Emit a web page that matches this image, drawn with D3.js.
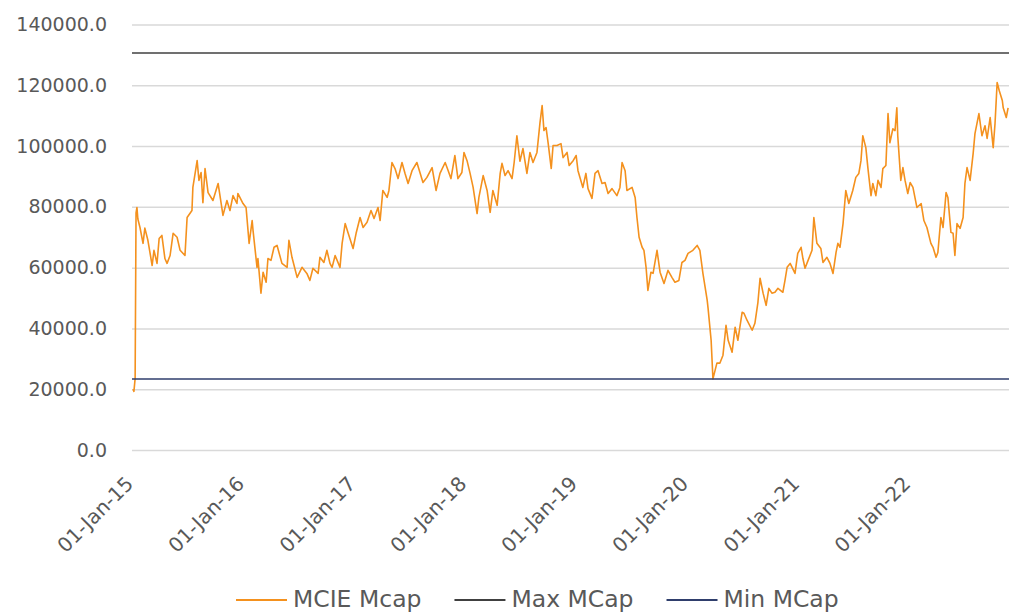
<!DOCTYPE html>
<html>
<head>
<meta charset="utf-8">
<script src="https://cdn.jsdelivr.net/npm/d3@7"></script>
<style>
  body { margin: 0; background: #fff; }
  svg { display: block; font-family: "DejaVu Sans", sans-serif; }
</style>
</head>
<body>
<svg></svg>
<script>
// values
const dates = [
  "2015-01-01","2015-01-04","2015-01-08","2015-01-11","2015-01-14","2015-01-17","2015-01-24","2015-02-03","2015-02-09","2015-02-19",
  "2015-03-05","2015-03-11","2015-03-21","2015-03-28","2015-04-06","2015-04-16","2015-04-23","2015-05-03","2015-05-13","2015-05-26",
  "2015-06-05","2015-06-21","2015-06-28","2015-07-14","2015-07-17","2015-07-31","2015-08-06","2015-08-13","2015-08-19","2015-08-26",
  "2015-09-05","2015-09-21","2015-10-08","2015-10-24","2015-11-06","2015-11-16","2015-11-26","2015-12-09","2015-12-12","2015-12-29",
  "2016-01-08","2016-01-18","2016-01-28","2016-01-31","2016-02-13","2016-02-16","2016-02-26","2016-03-04","2016-03-14","2016-03-20",
  "2016-03-30","2016-04-09","2016-04-19","2016-05-05","2016-05-22","2016-05-28","2016-06-07","2016-06-24","2016-07-10","2016-07-26",
  "2016-08-05","2016-08-15","2016-09-01","2016-09-07","2016-09-20","2016-09-30","2016-10-10","2016-10-17","2016-10-27","2016-11-12",
  "2016-11-19","2016-11-29","2016-12-09","2016-12-25",
  "2017-01-04","2017-01-17","2017-01-27","2017-02-09","2017-02-22","2017-03-04","2017-03-17","2017-03-24","2017-04-02","2017-04-16",
  "2017-04-22","2017-05-02","2017-05-12","2017-05-22","2017-06-04","2017-06-14","2017-06-24","2017-07-07","2017-07-23","2017-08-02",
  "2017-08-12","2017-08-25","2017-09-11","2017-09-24","2017-10-07","2017-10-24","2017-11-03","2017-11-12","2017-11-25","2017-12-05",
  "2017-12-18","2017-12-25",
  "2018-01-04","2018-01-14","2018-01-24","2018-02-06","2018-02-12","2018-02-26","2018-03-11","2018-03-21","2018-03-30","2018-04-13",
  "2018-04-23","2018-04-29","2018-05-09","2018-05-19","2018-06-01","2018-06-08","2018-06-17","2018-06-27","2018-07-07","2018-07-20",
  "2018-07-30","2018-08-09","2018-08-22","2018-09-01","2018-09-08","2018-09-14","2018-09-21","2018-09-28","2018-10-08","2018-10-14",
  "2018-10-27","2018-11-09","2018-11-16","2018-11-29","2018-12-06","2018-12-19","2018-12-29",
  "2019-01-04","2019-01-20","2019-01-30","2019-02-06","2019-02-19","2019-03-01","2019-03-11","2019-03-24","2019-04-03","2019-04-13",
  "2019-04-26","2019-05-12","2019-05-22","2019-05-29","2019-06-08","2019-06-14","2019-07-01","2019-07-11","2019-07-17","2019-07-24",
  "2019-08-03","2019-08-09","2019-08-16","2019-08-22","2019-09-01","2019-09-08","2019-09-21","2019-10-01","2019-10-14","2019-10-27",
  "2019-11-09","2019-11-19","2019-12-02","2019-12-12","2019-12-22",
  "2020-01-01","2020-01-17","2020-01-31","2020-02-09","2020-02-19","2020-03-04","2020-03-07","2020-03-17","2020-03-23","2020-04-05",
  "2020-04-15","2020-04-25","2020-05-05","2020-05-12","2020-05-25","2020-06-04","2020-06-13","2020-06-27","2020-07-03","2020-07-13",
  "2020-07-30","2020-08-08","2020-08-18","2020-08-25","2020-09-04","2020-09-14","2020-09-23","2020-10-03","2020-10-13","2020-10-23",
  "2020-11-08","2020-11-15","2020-11-22","2020-12-02","2020-12-18","2020-12-27",
  "2021-01-07","2021-01-13","2021-01-20","2021-01-30","2021-02-12","2021-02-18","2021-02-28","2021-03-13","2021-03-20","2021-04-02",
  "2021-04-12","2021-04-22","2021-05-02","2021-05-08","2021-05-15","2021-05-25","2021-06-03","2021-06-13","2021-06-26","2021-07-06",
  "2021-07-16","2021-07-23","2021-07-29","2021-08-08","2021-08-15","2021-08-25","2021-08-31","2021-09-10","2021-09-17","2021-09-27",
  "2021-10-03","2021-10-13","2021-10-20","2021-10-26","2021-11-05","2021-11-12","2021-11-18","2021-11-21","2021-12-01","2021-12-08",
  "2021-12-15","2021-12-24",
  "2022-01-01","2022-01-10","2022-01-23","2022-02-06","2022-02-15","2022-02-25","2022-03-10","2022-03-17","2022-03-27","2022-04-02",
  "2022-04-12","2022-04-19","2022-04-29","2022-05-05","2022-05-15","2022-05-22","2022-05-28","2022-06-04","2022-06-14","2022-06-24",
  "2022-06-30","2022-07-07","2022-07-17","2022-07-27","2022-08-02","2022-08-15","2022-08-25","2022-09-04","2022-09-11","2022-09-21",
  "2022-10-01","2022-10-07","2022-10-14","2022-10-21","2022-10-31","2022-11-03","2022-11-13","2022-11-19"
];

const mcap = [
  20000,19300,23500,78000,79800,76000,73200,68000,73000,69000,
  60700,65700,61400,69600,70600,63000,61400,64000,71300,70000,
  65700,64000,76500,78800,86400,95200,88700,91300,81400,92600,
  84700,82100,87700,77200,82100,78800,83700,81100,84400,81100,
  79800,68000,75500,72200,60100,63000,51600,58500,55200,63000,
  62400,66700,67300,61400,60100,69000,63400,56800,60100,58100,
  55800,59800,58100,63400,61700,65700,61400,60100,64000,60100,
  68000,74500,71300,66300,
  71300,76500,73200,74900,78800,76200,79800,75500,85400,83100,
  85400,94600,92600,89300,94600,91000,87700,91900,94600,91300,
  88000,89700,92900,85400,91000,94600,91900,89300,96900,89300,
  91300,97900,
  95200,91000,86400,77800,83100,90300,85400,78200,85400,80500,
  91000,94300,90300,91900,89300,94600,103400,95000,99200,91000,
  97900,94600,97900,107700,113300,105100,106100,100800,92600,100200,
  100200,100800,96200,97900,93600,95200,96900,
  91900,86400,91000,86000,82800,91000,91900,87700,88000,84400,
  86000,83700,86400,94600,91900,85400,86400,83100,76500,70000,
  66700,65700,60100,52500,58500,58100,65700,58500,54800,59100,
  56800,55200,55800,61700,62400,
  64700,65700,67300,65700,58100,49300,46600,36100,23400,28600,
  28600,31200,41000,36100,32200,40400,36100,45300,45000,42700,
  39400,41700,48600,56500,51600,47600,53200,51600,51900,53200,
  51900,55800,60100,61400,58100,64700,
  66700,63000,59800,62400,65700,76500,68000,66300,61700,63400,
  61400,58100,65000,68000,66700,74500,85400,81100,85400,89700,
  91000,95200,103400,99500,92600,83700,87700,83700,88700,86400,
  92600,93600,110700,101100,105700,105100,112600,103400,88700,92900,
  88700,84400,
  88000,86400,79800,81100,75500,73200,68000,66700,63400,65000,
  76500,73200,84700,83100,71600,71300,64000,74500,72900,76500,
  87700,92900,88700,97500,104100,110700,103400,106700,102500,109400,
  99500,107400,120900,118200,115000,112600,109400,112600
];

const maxMcap = 130600,
  minMcap = 23400,
  yTicks = [0, 20000, 40000, 60000, 80000, 100000, 120000, 140000],
  xTicks = ["2015-01-01","2016-01-01","2017-01-01","2018-01-01","2019-01-01","2020-01-01","2021-01-01","2022-01-01"],
  xEnd = "2022-11-22",
  seriesNames = ["MCIE Mcap", "Max MCap", "Min MCap"],
  colors = ["#F4911E", "#404040", "#2F3E6C"];

const W = 1009,
  H = 612,
  plot = { left: 133, right: 1009, top: 24.5, bottom: 450 },
  parse = d3.timeParse("%Y-%m-%d"),
  textColor = "#595959",
  font = '"DejaVu Sans", sans-serif';

const data = dates.map((d, i) => ({ date: parse(d), value: mcap[i] }));

const svg = d3.select("svg").attr("width", W).attr("height", H);

const x = d3
  .scaleTime()
  .domain([parse(dates[0]), parse(xEnd)])
  .range([plot.left, plot.right]);

const y = d3
  .scaleLinear()
  .domain([0, 140000])
  .range([plot.bottom, plot.top]);

// y axis + gridlines
const yAxis = svg
  .append("g")
  .attr("transform", "translate(" + (plot.left - 1) + ",0)")
  .call(
    d3
      .axisLeft(y)
      .tickValues(yTicks)
      .tickSize(-(plot.right - plot.left + 1))
      .tickPadding(25)
      .tickFormat(d3.format(".1f"))
  );
yAxis.select(".domain").remove();
yAxis.selectAll("line").attr("stroke", "#D9D9D9").attr("stroke-width", 1.5);
yAxis
  .selectAll("text")
  .attr("fill", textColor)
  .attr("font-size", "19px")
  .attr("font-family", font);

// x axis, rotated labels
const xAxis = svg
  .append("g")
  .attr("transform", "translate(0," + plot.bottom + ")")
  .call(
    d3
      .axisBottom(x)
      .tickValues(xTicks.map(parse))
      .tickSize(0)
      .tickFormat(d3.timeFormat("%d-%b-%y"))
  );
xAxis.select(".domain").remove();
xAxis
  .selectAll("text")
  .attr("x", 0)
  .attr("y", 0)
  .attr("dy", 0)
  .attr("fill", textColor)
  .attr("font-size", "20px")
  .attr("font-family", font)
  .attr("text-anchor", "end")
  .attr("transform", "translate(1,35) rotate(-45)");

// series
const line = d3
  .line()
  .x(d => x(d.date))
  .y(d => y(d.value));

svg
  .append("path")
  .datum(data)
  .attr("fill", "none")
  .attr("stroke", colors[0])
  .attr("stroke-width", 1.6)
  .attr("stroke-linejoin", "round")
  .attr("d", line);

// max / min reference lines
[maxMcap, minMcap].forEach((v, i) => {
  svg
    .append("line")
    .attr("x1", plot.left - 1)
    .attr("x2", plot.right)
    .attr("y1", y(v))
    .attr("y2", y(v))
    .attr("stroke", colors[i + 1])
    .attr("stroke-width", 1.5);
});

// legend
let lx = 236;
const ly = 600;
seriesNames.forEach((name, i) => {
  svg
    .append("line")
    .attr("x1", lx)
    .attr("x2", lx + 51)
    .attr("y1", ly)
    .attr("y2", ly)
    .attr("stroke", colors[i])
    .attr("stroke-width", 2);
  const t = svg
    .append("text")
    .attr("x", lx + 57)
    .attr("y", ly + 7)
    .attr("fill", textColor)
    .attr("font-size", "23.5px")
    .attr("font-family", font)
    .text(name);
  lx += 57 + t.node().getComputedTextLength() + 33;
});
</script>
</body>
</html>
